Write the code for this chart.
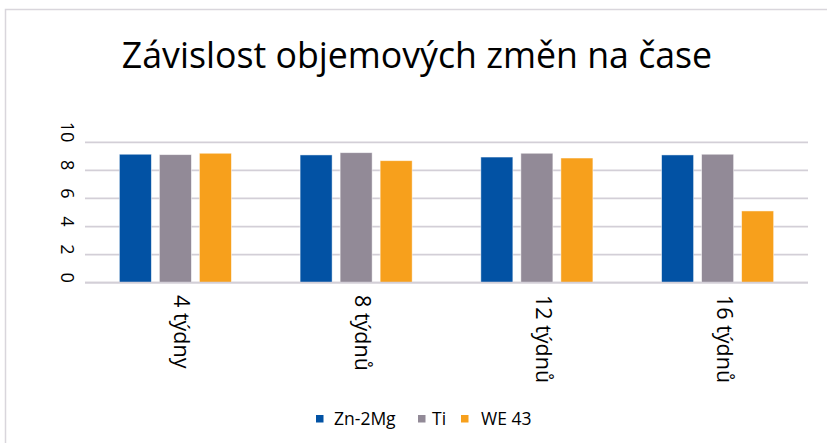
<!DOCTYPE html>
<html>
<head>
<meta charset="utf-8">
<script src="https://cdn.jsdelivr.net/npm/d3@7"></script>
<style>
  body { margin: 0; background: #fff; }
  text { font-family: 'Open Sans', sans-serif; fill: #000; }
</style>
</head>
<body>
<div id="chart"></div>
<script>
const categories = ['4 týdny', '8 týdnů', '12 týdnů', '16 týdnů']
const series = ['Zn-2Mg', 'Ti', 'WE 43']
const znMg = [9.15, 9.1, 8.95, 9.1]
const ti = [9.12, 9.26, 9.22, 9.15]
const we43 = [9.22, 8.69, 8.88, 5.11]
const yTicks = [0, 2, 4, 6, 8, 10]
const colors = ['#0252a4', '#928a97', '#f7a01c']

const width = 827
const height = 443
const margin = { top: 142.3, right: 19, bottom: 160.3, left: 85 }

const table = categories.map((c, i) => ({
  category: c,
  values: [znMg[i], ti[i], we43[i]]
}))

const svg = d3
  .select('#chart')
  .append('svg')
  .attr('width', width)
  .attr('height', height)

// chart area border
svg
  .append('rect')
  .attr('x', 5.5)
  .attr('y', 9.5)
  .attr('width', 900)
  .attr('height', 600)
  .attr('fill', '#fff')
  .attr('stroke', '#d9d6dc')
  .attr('stroke-width', 1.5)

svg
  .append('text')
  .attr('x', 417)
  .attr('y', 68)
  .attr('text-anchor', 'middle')
  .style('font-size', '35.7px')
  .text('Závislost objemových změn na čase')

const x0 = d3
  .scaleBand()
  .domain(categories)
  .range([margin.left, width - margin.right])
  .paddingInner(0.38)
  .paddingOuter(0.19)

const x1 = d3
  .scaleBand()
  .domain(series)
  .range([0, x0.bandwidth()])
  .paddingInner(0.2)

const y = d3
  .scaleLinear()
  .domain([0, 10])
  .range([height - margin.bottom, margin.top])

// gridlines
svg
  .append('g')
  .selectAll('line')
  .data(yTicks)
  .join('line')
  .attr('x1', margin.left)
  .attr('x2', width - margin.right)
  .attr('y1', d => y(d))
  .attr('y2', d => y(d))
  .attr('stroke', '#d3cfd7')
  .attr('stroke-width', 1.8)

// y tick labels, rotated
svg
  .append('g')
  .selectAll('text')
  .data(yTicks)
  .join('text')
  .attr('transform', d => `translate(61, ${y(d)}) rotate(90)`)
  .attr('text-anchor', 'end')
  .style('font-size', '18px')
  .text(d => d)

// bars
svg
  .append('g')
  .selectAll('g')
  .data(table)
  .join('g')
  .attr('transform', d => `translate(${x0(d.category)}, 0)`)
  .selectAll('rect')
  .data(d => d.values.map((v, i) => ({ key: series[i], value: v, i })))
  .join('rect')
  .attr('x', d => x1(d.key))
  .attr('y', d => y(d.value))
  .attr('width', x1.bandwidth())
  .attr('height', d => y(0) - y(d.value))
  .attr('fill', d => colors[d.i])
  .attr('stroke', '#fff')
  .attr('stroke-opacity', 0.6)
  .attr('stroke-width', 0.8)

// baseline
svg
  .append('line')
  .attr('x1', margin.left)
  .attr('x2', width - margin.right)
  .attr('y1', y(0))
  .attr('y2', y(0))
  .attr('stroke', '#d3cfd7')
  .attr('stroke-width', 1.8)

// category labels, rotated
svg
  .append('g')
  .selectAll('text')
  .data(categories)
  .join('text')
  .attr('transform', d => `translate(${x0(d) + x0.bandwidth() / 2 - 1}, 295) rotate(90)`)
  .attr('text-anchor', 'start')
  .style('font-size', '21.5px')
  .text(d => d)

// legend
const legendX = [316, 418, 461]
const legend = svg
  .append('g')
  .selectAll('g')
  .data(series)
  .join('g')
  .attr('transform', (d, i) => `translate(${legendX[i]}, 415)`)

legend
  .append('rect')
  .attr('width', 7.5)
  .attr('height', 7.5)
  .attr('fill', (d, i) => colors[i])

legend
  .append('text')
  .attr('x', (d, i) => [18, 14, 20][i])
  .attr('y', 9.5)
  .style('font-size', '17.5px')
  .text(d => d)
</script>
</body>
</html>
